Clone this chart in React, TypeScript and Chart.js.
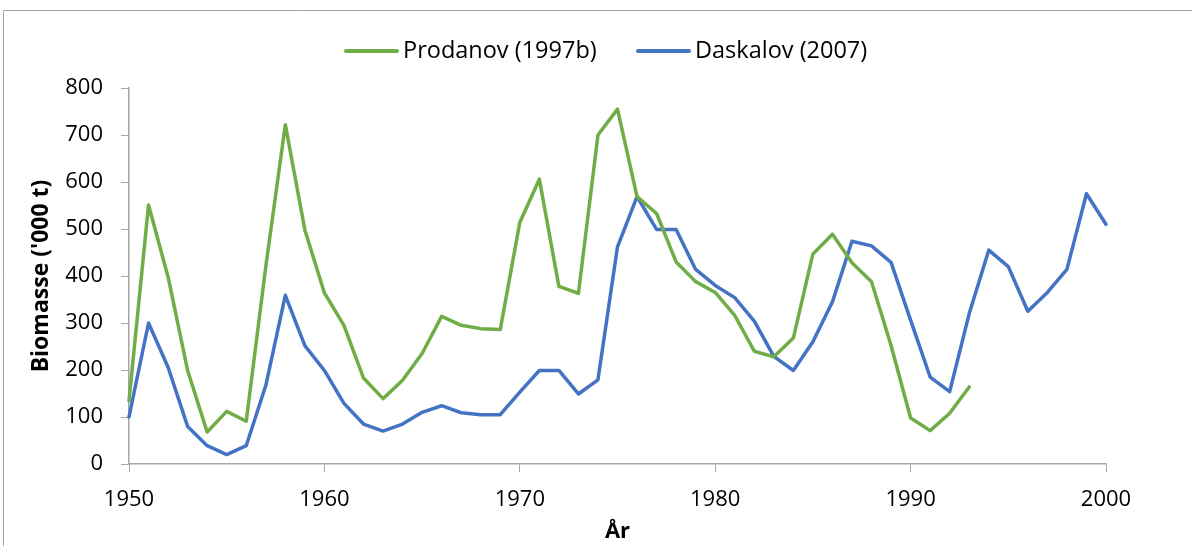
import { useEffect, useRef } from "react";
import { Chart, registerables } from "chart.js";

Chart.register(...registerables);

const years = [
  1950, 1951, 1952, 1953, 1954, 1955, 1956, 1957, 1958, 1959,
  1960, 1961, 1962, 1963, 1964, 1965, 1966, 1967, 1968, 1969,
  1970, 1971, 1972, 1973, 1974, 1975, 1976, 1977, 1978, 1979,
  1980, 1981, 1982, 1983, 1984, 1985, 1986, 1987, 1988, 1989,
  1990, 1991, 1992, 1993, 1994, 1995, 1996, 1997, 1998, 1999,
  2000,
];

// Prodanov (1997b): 1950–1993
const prodanov = [
  135, 551, 398, 199, 68, 112, 91, 420, 722, 498,
  364, 295, 183, 139, 178, 235, 314, 295, 288, 286,
  514, 606, 378, 363, 700, 755, 569, 533, 430, 388,
  365, 316, 240, 228, 268, 447, 489, 428, 388, 252,
  98, 71, 108, 164,
];

// Daskalov (2007): 1950–2000
const daskalov = [
  100, 300, 206, 80, 39, 20, 39, 167, 359, 252,
  199, 129, 85, 70, 85, 110, 124, 109, 105, 105,
  153, 199, 199, 149, 179, 462, 569, 499, 499, 414,
  380, 354, 304, 229, 199, 260, 345, 474, 464, 429,
  306, 185, 154, 320, 455, 420, 325, 365, 414, 575,
  510,
];

const seriesLabels = ["Prodanov (1997b)", "Daskalov (2007)"];
const xTicks = [1950, 1960, 1970, 1980, 1990, 2000];
const yTicks = [0, 100, 200, 300, 400, 500, 600, 700, 800];

const GREEN = "#70ad47";
const BLUE = "#4472c4";
const AXIS = "#a6a6a6";
const FONT = "'Open Sans', 'DejaVu Sans', sans-serif";

const framePlugin = {
  id: "frame",
  beforeDraw(chart: any) {
    const ctx = chart.ctx;
    ctx.save();
    ctx.fillStyle = "#ffffff";
    ctx.fillRect(0, 0, chart.width, chart.height);
    ctx.strokeStyle = "#a6a6a6";
    ctx.lineWidth = 1;
    ctx.beginPath();
    ctx.moveTo(3.5, chart.height);
    ctx.lineTo(3.5, 10.5);
    ctx.lineTo(chart.width, 10.5);
    ctx.stroke();
    ctx.restore();
  },
};

const legendPlugin = {
  id: "customLegend",
  afterDraw(chart: any) {
    const ctx = chart.ctx;
    const y = 51;
    const starts = [345, 637];
    ctx.save();
    ctx.font = `23.5px ${FONT}`;
    ctx.textBaseline = "middle";
    ctx.textAlign = "left";
    chart.data.datasets.forEach((ds: any, i: number) => {
      const x0 = starts[i];
      ctx.strokeStyle = ds.borderColor;
      ctx.lineWidth = 4;
      ctx.lineCap = "round";
      ctx.beginPath();
      ctx.moveTo(x0 + 1, y);
      ctx.lineTo(x0 + 52, y);
      ctx.stroke();
      ctx.fillStyle = "#000000";
      ctx.fillText(ds.label, x0 + 58, y);
    });
    ctx.restore();
  },
};

export default function App() {
  const canvasRef = useRef<HTMLCanvasElement | null>(null);

  useEffect(() => {
    const canvas = canvasRef.current;
    if (!canvas) return;
    const chart = new Chart(canvas, {
      type: "line",
      data: {
        datasets: [
          {
            label: seriesLabels[0],
            data: prodanov.map((v, i) => ({ x: years[i], y: v })),
            borderColor: GREEN,
            backgroundColor: GREEN,
            borderWidth: 3.5,
            pointRadius: 0,
            tension: 0,
            clip: false,
            borderJoinStyle: "round",
            borderCapStyle: "round",
          },
          {
            label: seriesLabels[1],
            data: daskalov.map((v, i) => ({ x: years[i], y: v })),
            borderColor: BLUE,
            backgroundColor: BLUE,
            borderWidth: 3.5,
            pointRadius: 0,
            tension: 0,
            clip: false,
            borderJoinStyle: "round",
            borderCapStyle: "round",
          },
        ],
      },
      options: {
        responsive: false,
        animation: false,
        events: [],
        layout: { padding: { left: 0, top: 88, right: 86, bottom: 0 } },
        plugins: {
          legend: { display: false },
          tooltip: { enabled: false },
        },
        scales: {
          x: {
            type: "linear",
            min: 1950,
            max: 2000,
            afterBuildTicks: (scale: any) => {
              scale.ticks = xTicks.map((v) => ({ value: v }));
            },
            afterFit: (scale: any) => {
              scale.height = 82;
            },
            ticks: {
              color: "#000000",
              font: { family: FONT, size: 22 },
              padding: 15,
              maxRotation: 0,
              callback: (v: any) => String(v),
            },
            grid: {
              display: true,
              drawOnChartArea: false,
              drawTicks: true,
              tickLength: 8,
              color: AXIS,
            },
            border: { display: true, color: AXIS, width: 1.5 },
            title: {
              display: true,
              text: "År",
              color: "#000000",
              font: { family: FONT, size: 22, weight: "bold" },
              padding: { top: 0, bottom: 1 },
            },
          },
          y: {
            type: "linear",
            min: 0,
            max: 800,
            afterBuildTicks: (scale: any) => {
              scale.ticks = yTicks.map((v) => ({ value: v }));
            },
            afterFit: (scale: any) => {
              scale.width = 129;
            },
            ticks: {
              color: "#000000",
              font: { family: FONT, size: 22 },
              padding: 18,
              callback: (v: any) => String(v),
            },
            grid: {
              display: true,
              drawOnChartArea: false,
              drawTicks: true,
              tickLength: 8,
              color: AXIS,
            },
            border: { display: true, color: AXIS, width: 1.5 },
            title: {
              display: true,
              text: "Biomasse ('000 t)",
              color: "#000000",
              font: { family: FONT, size: 23, weight: "bold" },
              padding: { top: 28, bottom: 0 },
            },
          },
        },
      },
      plugins: [framePlugin, legendPlugin],
    } as any);
    return () => chart.destroy();
  }, []);

  return (
    <div style={{ position: "fixed", left: 0, top: 0, width: 1192, height: 546, background: "#fff" }}>
      <canvas ref={canvasRef} width={1192} height={546} style={{ display: "block" }} />
    </div>
  );
}
